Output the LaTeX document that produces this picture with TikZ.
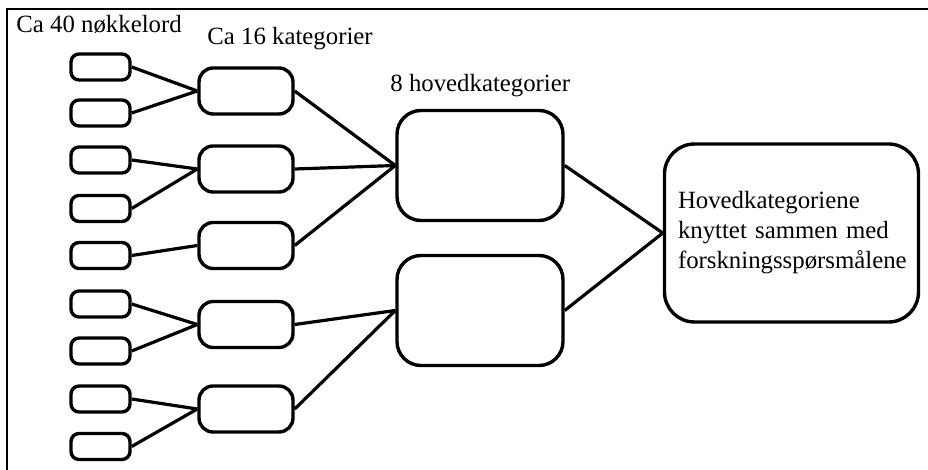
\documentclass[tikz,border=0pt]{standalone}
\usepackage{fontspec}
\setmainfont{Liberation Serif}

\begin{document}
\begin{tikzpicture}[x=0.5pt,y=-0.5pt,
    ord/.style={draw,line width=1.7pt,rounded corners=4pt,minimum width=29.5pt,minimum height=13pt,inner sep=0pt},
    kat/.style={draw,line width=1.7pt,rounded corners=7pt,minimum width=47pt,minimum height=23pt,inner sep=0pt},
    hoved/.style={draw,line width=1.7pt,rounded corners=12pt,minimum width=83pt,minimum height=55pt,inner sep=0pt},
    linje/.style={line width=1.6pt},
    tittel/.style={anchor=base west,inner sep=0pt,font=\fontsize{12.4}{15}\selectfont}]
            \useasboundingbox (0,0) rectangle (928,470);
            \draw[line width=1pt] (7,470) -- (7,9) -- (928,9);
            \foreach \n/\y in {1/67,2/113,3/160,4/208.5,5/255.5,6/304,7/351,8/399,9/446.5}{
                \node[ord] (kw\n) at (100.5,\y) {};
            }
            \foreach \n/\y in {1/91,2/169,3/245.5,4/324.5,5/409}{
                \node[kat] (kat\n) at (246,\y) {};
            }
            \node[hoved] (hk1) at (480,165.5) {};
            \node[hoved] (hk2) at (480,310.5) {};
            \node[draw,line width=1.7pt,rounded corners=15pt,minimum width=127pt,minimum height=89pt,
                text width=113.5pt,align=left,inner sep=0pt,font=\fontsize{12.4}{15}\selectfont]
                (maal) at (791.5,233) {Hovedkategoriene\\knyttet sammen med\\forskningsspørsmålene};
            \foreach \a/\b in {1/1,2/1,3/2,4/2,5/3,6/4,7/4,8/5,9/5}{
                \draw[linje] (kw\a.east) -- (kat\b.west);
            }
            \foreach \a/\b in {1/1,2/1,3/1,4/2,5/2}{
                \draw[linje] (kat\a.east) -- (hk\b.west);
            }
            \draw[linje] (hk1.east) -- (maal.west);
            \draw[linje] (hk2.east) -- (maal.west);
            \node[tittel] (ord40) at (16,33) {Ca 40 nøkkelord};
            \node[tittel] (kat16) at (207,45) {Ca 16 kategorier};
            \node[tittel] (hoved8) at (390,92) {8 hovedkategorier};
        \end{tikzpicture}
\end{document}
